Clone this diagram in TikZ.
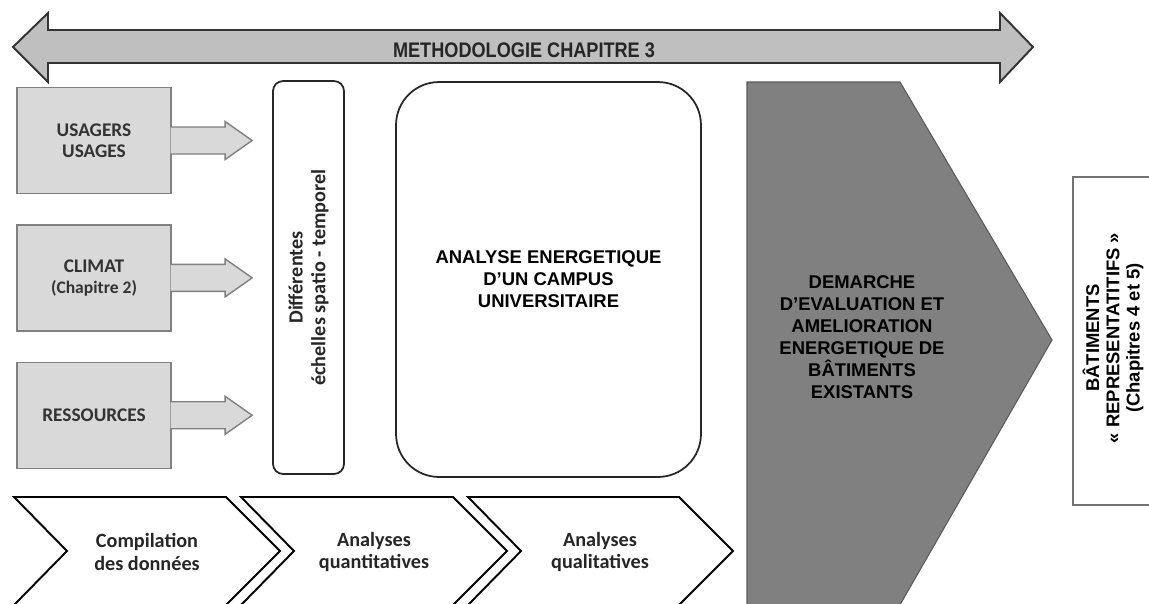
\documentclass[tikz,border=0pt]{standalone}
\usepackage{fontspec}
\setmainfont{Liberation Sans}
\newfontfamily\calibri{Carlito}
\usepackage{graphicx}
\usetikzlibrary{positioning,calc}

\begin{document}
\begin{tikzpicture}[x=0.02cm, y=-0.02cm,
    grey box/.style={draw=black!50, fill=black!15, line width=0.8pt, minimum width=3.08cm, minimum height=2.12cm, align=center, text=black!80, font=\calibri\bfseries\fontsize{11}{12}\selectfont},
    grey arrow/.style={draw=black!50, fill=black!15, line width=0.8pt},
    round box/.style={draw=black!85, line width=1pt},
    chevron/.style={draw=black, fill=white, line width=1.1pt, line join=miter},
    chevron text/.style={align=center, text=black!85, font=\calibri\bfseries\fontsize{11.5}{13}\selectfont},
    caps text/.style={align=center, font=\bfseries\fontsize{10.5}{12.5}\selectfont},
    node distance=0.6cm]
    \useasboundingbox (0,0) rectangle (1149,603);

    % bandeau du haut
    \draw[draw=black!80, fill=black!25, line width=1.1pt] (13,47) -- (48,13) -- (48,30) -- (1000,30) -- (1000,13) -- (1033,47) -- (1000,82) -- (1000,63) -- (48,63) -- (48,82) -- cycle;
    \node[font=\bfseries\fontsize{12}{14}\selectfont, text=black!85] (methodo) at (524,50) {\scalebox{0.86}[1]{METHODOLOGIE CHAPITRE 3}};

    % entrees
    \node[grey box] (usagers) at (94,140.5) {USAGERS\\USAGES};
    \node[grey box, below=of usagers] (climat) {CLIMAT\\{\fontsize{10}{12}\selectfont(Chapitre 2)}};
    \node[grey box, below=of climat] (ressources) {RESSOURCES};

    % echelles
    \node[round box, rounded corners=0.2cm, minimum width=1.42cm, minimum height=7.86cm] (echelles) at (308.5,277.5) {};
    \node[chevron text, rotate=90] (echtext) at (echelles.center) {Différentes\\échelles spatio - temporel};

    \coordinate (t1) at ($(usagers.east -| echelles.west)+(-20,0)$);
    \coordinate (t2) at ($(climat.east -| echelles.west)+(-20,0)$);
    \coordinate (t3) at ($(ressources.east -| echelles.west)+(-20,0)$);
    \draw[grey arrow] ($(usagers.east)+(-1,-13.5)$) -- ($(t1)+(-27,-13.5)$) -- ($(t1)+(-27,-19)$) -- (t1) -- ($(t1)+(-27,19)$) -- ($(t1)+(-27,13.5)$) -- ($(usagers.east)+(-1,13.5)$);
    \draw[grey arrow] ($(climat.east)+(-1,-13.5)$) -- ($(t2)+(-27,-13.5)$) -- ($(t2)+(-27,-19)$) -- (t2) -- ($(t2)+(-27,19)$) -- ($(t2)+(-27,13.5)$) -- ($(climat.east)+(-1,13.5)$);
    \draw[grey arrow] ($(ressources.east)+(-1,-13.5)$) -- ($(t3)+(-27,-13.5)$) -- ($(t3)+(-27,-19)$) -- (t3) -- ($(t3)+(-27,19)$) -- ($(t3)+(-27,13.5)$) -- ($(ressources.east)+(-1,13.5)$);

    % campus
    \node[round box, rounded corners=0.86cm, minimum width=6.1cm, minimum height=7.9cm, caps text] (campus) at (548.5,279.5) {ANALYSE ENERGETIQUE\\D'UN CAMPUS\\UNIVERSITAIRE};

    % demarche
    \draw[draw=black!65, fill=black!50, line width=0.6pt] (747,82) -- (900,82) -- (1052,340) -- (897,610) -- (747,610) -- cycle;
    \node[caps text] (demarche) at (862,337) {DEMARCHE\\D'EVALUATION ET\\AMELIORATION\\ENERGETIQUE DE\\BÂTIMENTS\\EXISTANTS};

    % batiments
    \draw[draw=black!55, line width=0.8pt] (1160,177) -- (1073,177) -- (1073,505) -- (1160,505);
    \node[caps text, rotate=90, font=\bfseries\fontsize{10.5}{11.5}\selectfont] (batiments) at (1113,338) {BÂTIMENTS\\« REPRESENTATITIFS »\\(Chapitres 4 et 5)};

    % analyses
    \draw[chevron] (14,497) -- (226,497) -- (280,551) -- (226,605) -- (14,605) -- (67,551) -- cycle;
    \draw[chevron] (241,497) -- (453,497) -- (507,551) -- (453,605) -- (241,605) -- (294,551) -- cycle;
    \draw[chevron] (468,497) -- (679,497) -- (733,551) -- (679,605) -- (468,605) -- (521,551) -- cycle;
    \node[chevron text] (compil) at (147,552) {Compilation\\des données};
    \node[chevron text] (quanti) at (374,552) {Analyses\\quantitatives};
    \node[chevron text] (quali) at (600,552) {Analyses\\qualitatives};
\end{tikzpicture}
\end{document}
